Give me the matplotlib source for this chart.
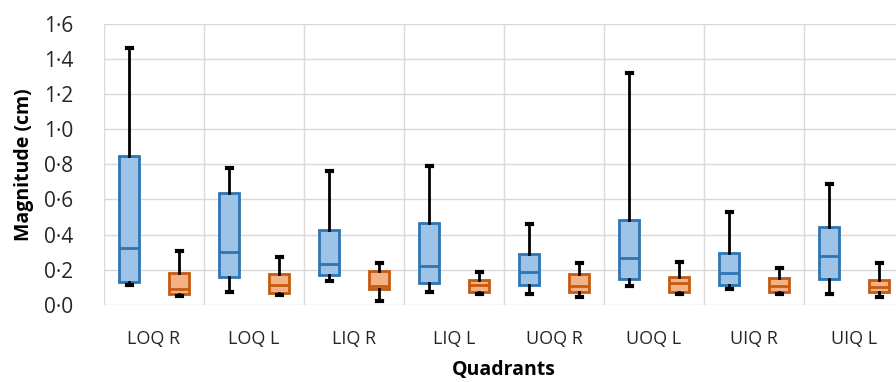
import numpy as np
import matplotlib.pyplot as plt

plt.rcParams['font.family'] = ['Open Sans', 'DejaVu Sans']

quadrants = ['LOQ R', 'LOQ L', 'LIQ R', 'LIQ L', 'UOQ R', 'UOQ L', 'UIQ R', 'UIQ L']

# blue series: whisker low, Q1, median, Q3, whisker high
blue_lo = [0.114, 0.076, 0.138, 0.076, 0.062, 0.106, 0.093, 0.061]
blue_q1 = [0.133, 0.157, 0.169, 0.127, 0.114, 0.146, 0.114, 0.146]
blue_med = [0.322, 0.299, 0.231, 0.223, 0.186, 0.267, 0.184, 0.280]
blue_q3 = [0.847, 0.636, 0.428, 0.468, 0.288, 0.485, 0.297, 0.441]
blue_hi = [1.458, 0.777, 0.763, 0.790, 0.460, 1.316, 0.530, 0.689]

# orange series
orng_lo = [0.051, 0.055, 0.025, 0.064, 0.047, 0.062, 0.061, 0.045]
orng_q1 = [0.061, 0.066, 0.089, 0.076, 0.076, 0.072, 0.076, 0.074]
orng_med = [0.089, 0.114, 0.110, 0.114, 0.110, 0.123, 0.110, 0.100]
orng_q3 = [0.184, 0.176, 0.193, 0.140, 0.176, 0.157, 0.152, 0.142]
orng_hi = [0.309, 0.275, 0.237, 0.189, 0.237, 0.246, 0.212, 0.239]


def stats(lo, q1, med, q3, hi):
    return [dict(whislo=a, q1=b, med=c, q3=d, whishi=e, fliers=[])
            for a, b, c, d, e in zip(lo, q1, med, q3, hi)]


fig = plt.figure(figsize=(8.96, 3.82), dpi=100)
ax = fig.add_axes([104/896, 77/382, 800/896, 281.5/382])

x = np.arange(len(quadrants))


def draw(st, pos, edge, fill):
    ax.bxp(st, positions=pos, widths=0.2, showfliers=False, patch_artist=True,
           capwidths=0.05,
           boxprops=dict(facecolor=fill, edgecolor=edge, linewidth=2),
           medianprops=dict(color=edge, linewidth=2),
           whiskerprops=dict(color='black', linewidth=2),
           capprops=dict(color='black', linewidth=3),
           zorder=3)


draw(stats(blue_lo, blue_q1, blue_med, blue_q3, blue_hi), x - 0.25, '#2E75B6', '#9DC3E6')
draw(stats(orng_lo, orng_q1, orng_med, orng_q3, orng_hi), x + 0.25, '#C55A11', '#F4B183')

ax.set_xlim(-0.5, len(quadrants) - 0.5)
ax.set_ylim(0, 1.6)
ax.set_yticks(np.arange(0, 1.61, 0.2))
ax.set_yticklabels([f'{v:.1f}'.replace('.', '·') for v in np.arange(0, 1.61, 0.2)],
                   fontsize=15, color='#262626')
ax.set_xticks(x)
ax.set_xticklabels(quadrants, fontsize=13, color='#262626')
ax.set_xticks(np.arange(-0.5, len(quadrants), 1), minor=True)
ax.grid(False)
ax.grid(True, axis='y', color='#D9D9D9', linewidth=1, zorder=0)
ax.grid(True, axis='x', which='minor', color='#D9D9D9', linewidth=1, zorder=0)
ax.tick_params(axis='both', which='both', length=0)
ax.tick_params(axis='y', pad=22)
ax.tick_params(axis='x', pad=18)
for s in ax.spines.values():
    s.set_visible(False)
ax.set_axisbelow(True)

ax.set_ylabel('Magnitude (cm)', fontsize=14, fontweight='bold', labelpad=7)
ax.set_xlabel('Quadrants', fontsize=14, fontweight='bold', labelpad=9)

fig.savefig('out.png', dpi=100)
